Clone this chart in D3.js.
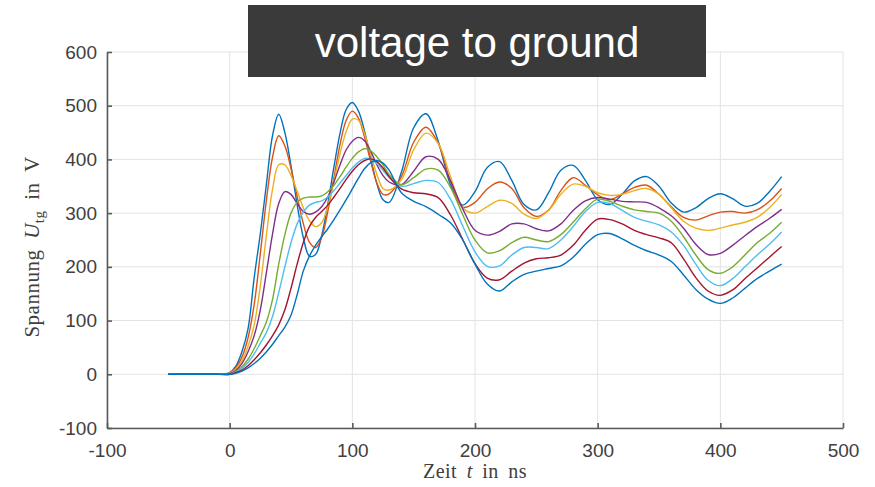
<!DOCTYPE html>
<html>
<head>
<meta charset="utf-8">
<title>voltage to ground</title>
<script src="https://d3js.org/d3.v7.min.js"></script>
<style>
  body { margin: 0; background: #fff; }
  .tick text { font-family: "Liberation Sans", Arial, sans-serif; font-size: 19px; fill: #404040; }
  .axis path, .axis line { stroke: #5a5a5a; stroke-width: 1.6px; }
  .grid line { stroke: #e3e3e3; stroke-width: 1px; }
  .trace { fill: none; stroke-width: 1.4px; }
  .label { font-family: "Liberation Serif", "Times New Roman", serif; fill: #404040; }
</style>
</head>
<body>
<div id="chart"></div>
<script>
// time axis (ns), shared by every trace
const times = [-50,-40,-30,-20,-10,0,5,10,15,20,25,30,35,40,45,50,55,60,65,70,75,80,85,90,95,100,105,110,115,120,125,130,
  140,150,160,170,180,190,200,210,220,230,240,250,260,270,280,290,300,310,320,330,340,350,360,370,380,390,400,410,420,430,440,450];

// voltage traces (V)
const blue1 = [0,0,0,0,0,3,15,42,85,180,262,355,445,484,450,388,316,255,220,223,258,317,386,449,493,506,490,452,402,355,325,320,
  376,459,485,434,353,315,340,385,396,361,316,306,338,380,389,361,325,316,335,360,368,350,319,302,310,327,336,327,313,318,340,368];
const orange = [0,0,0,0,0,2,12,32,68,130,225,325,405,444,425,383,331,281,246,236,255,303,366,428,473,490,477,441,396,356,335,336,
  368,432,460,430,360,311,320,345,358,346,310,294,306,342,366,352,334,325,336,348,352,335,312,292,287,295,302,303,300,306,322,346];
const yellow = [0,0,0,0,0,2,10,25,52,92,165,260,345,390,390,370,341,310,286,275,282,313,360,411,452,475,473,448,409,372,346,343,
  362,418,449,430,368,310,300,312,324,318,298,290,305,335,354,350,338,333,335,342,346,335,310,285,272,268,272,278,283,292,310,335];
const purple = [0,0,0,0,0,1,7,20,42,72,120,190,262,318,340,335,318,303,298,302,312,330,358,390,418,434,441,435,415,390,370,358,
  353,378,405,400,360,308,268,259,266,280,280,271,267,280,305,323,329,326,322,321,320,310,295,272,242,223,225,240,258,275,290,307];
const green = [0,0,0,0,0,0,5,14,28,48,72,98,140,205,260,300,320,328,330,330,332,340,352,368,386,402,414,420,416,405,390,372,
  353,366,382,380,348,297,250,226,230,245,255,250,247,260,283,308,326,322,313,306,303,300,285,256,222,195,188,200,222,245,262,283];
const cyan = [0,0,0,0,0,0,4,11,22,38,58,78,108,152,200,245,280,302,315,320,323,330,342,356,370,384,395,402,400,392,380,366,
  350,355,361,357,326,276,228,201,202,222,236,236,234,250,275,303,320,318,305,292,285,278,265,240,205,175,165,178,200,222,242,265];
const darkRed = [0,0,0,0,0,0,3,8,16,27,40,55,72,92,120,160,205,245,275,292,303,315,330,346,363,378,390,398,401,396,384,368,
  345,338,336,329,297,251,206,179,176,192,207,215,217,222,240,268,289,288,280,268,260,254,245,215,180,155,147,157,178,198,218,238];
const blue2 = [0,0,0,0,0,0,2,6,12,20,30,42,56,72,88,110,148,192,220,240,256,271,288,306,325,345,365,383,394,398,393,380,
  338,322,312,298,282,250,205,168,155,172,186,192,197,202,218,242,260,262,252,240,230,222,210,185,158,140,132,142,160,178,192,205];

const traces = [blue1, orange, yellow, purple, green, cyan, darkRed, blue2];
const colors = ["#0072BD", "#D95319", "#EDB120", "#7E2F8E", "#77AC30", "#4DBEEE", "#A2142F", "#0072BD"];

const xTicks = [-100, 0, 100, 200, 300, 400, 500];
const yTicks = [-100, 0, 100, 200, 300, 400, 500, 600];

const W = 875, H = 487;
const svg = d3.select("#chart").append("svg")
    .attr("width", W)
    .attr("height", H);

const x = d3.scaleLinear().domain([-100, 500]).range([107, 843]);
const y = d3.scaleLinear().domain([-100, 600]).range([428, 52]);

// grid
svg.append("g").attr("class", "grid")
    .selectAll("line.v").data(xTicks).enter().append("line")
    .attr("x1", d => x(d)).attr("x2", d => x(d))
    .attr("y1", y(-100)).attr("y2", y(600));
svg.append("g").attr("class", "grid")
    .selectAll("line.h").data(yTicks).enter().append("line")
    .attr("x1", x(-100)).attr("x2", x(500))
    .attr("y1", d => y(d)).attr("y2", d => y(d));

// traces
const line = d3.line()
    .x((d, i) => x(times[i]))
    .y(d => y(d))
    .curve(d3.curveCatmullRom.alpha(0.5));

svg.append("g").selectAll("path").data(traces).enter().append("path")
    .attr("class", "trace")
    .attr("stroke", (d, i) => colors[i])
    .attr("d", line);

// axes (only left and bottom, ticks pointing inward), plain hyphen minus
const fmt = d => String(d);
svg.append("g").attr("class", "axis")
    .attr("transform", `translate(0,${y(-100)})`)
    .call(d3.axisBottom(x).tickValues(xTicks).tickFormat(fmt).tickSizeInner(-5).tickSizeOuter(0).tickPadding(16));
svg.append("g").attr("class", "axis")
    .attr("transform", `translate(${x(-100)},0)`)
    .call(d3.axisLeft(y).tickValues(yTicks).tickFormat(fmt).tickSizeInner(-5).tickSizeOuter(0).tickPadding(10));

// axis labels
const xl = svg.append("text").attr("class", "label")
    .attr("x", 475).attr("y", 478).attr("text-anchor", "middle")
    .style("font-size", "20px")
    .style("letter-spacing", "0.5px").style("word-spacing", "4px");
xl.append("tspan").text("Zeit ");
xl.append("tspan").attr("font-style", "italic").text("t");
xl.append("tspan").text(" in ns");

const yl = svg.append("text").attr("class", "label")
    .attr("transform", "translate(39,247) rotate(-90)")
    .attr("text-anchor", "middle")
    .style("font-size", "21px")
    .style("letter-spacing", "0.5px").style("word-spacing", "5px");
yl.append("tspan").text("Spannung ");
yl.append("tspan").attr("font-style", "italic").text("U");
yl.append("tspan").attr("font-size", "15px").attr("dy", 5).text("tg");
yl.append("tspan").attr("dy", -5).text(" in V");

// title box
svg.append("rect")
    .attr("x", 248).attr("y", 5)
    .attr("width", 458).attr("height", 72)
    .attr("fill", "#3a3a3a");
svg.append("text")
    .attr("x", 477).attr("y", 57)
    .attr("text-anchor", "middle")
    .attr("font-family", "Liberation Sans, Arial, sans-serif")
    .attr("font-size", 42)
    .attr("fill", "#ffffff")
    .text("voltage to ground");
</script>
</body>
</html>
